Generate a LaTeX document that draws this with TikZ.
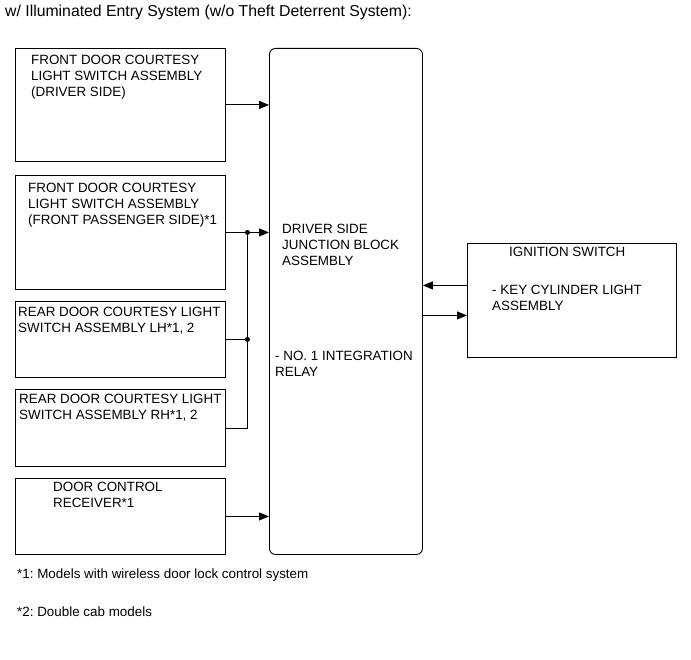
\documentclass[tikz,border=0pt]{standalone}
\usepackage{fontspec}
\setmainfont{Liberation Sans}
\usetikzlibrary{arrows.meta,positioning,calc}
\frenchspacing
\tikzset{
  part/.style={
    draw,
    line width=0.9pt,
    anchor=north west,
    inner sep=0pt,
    minimum width=210pt
  },
  tag/.style={
    anchor=north west,
    align=left,
    inner sep=0pt,
    font=\fontsize{13.4}{16}\selectfont
  },
  wire/.style={line width=0.9pt},
  feed/.style={wire, -{Triangle[length=10pt,width=8pt]}},
  joint/.style={circle, fill, inner sep=0pt, minimum size=5pt}
}

\begin{document}
\begin{tikzpicture}[x=1pt, y=-1pt]
 \useasboundingbox (0,0) rectangle (691,660);

 \node[tag, font=\fontsize{15.8}{19}\selectfont] (title) at (5,5)
   {w/ Illuminated Entry System (w/o Theft Deterrent System):};

 % switches on the left
 \node[part, minimum height=113pt] (fdd) at (15,48) {};
 \node[part, minimum height=114pt] (fpd) at (15,175) {};
 \node[part, minimum height=76pt] (rlh) at (15,301) {};
 \node[part, minimum height=77pt] (rrh) at (15,389) {};
 \node[part, minimum height=76pt] (dcr) at (15,478) {};

 \node[tag] (fdd text) [below right=7pt and 16pt of fdd.north west]
   {FRONT DOOR COURTESY\\LIGHT SWITCH ASSEMBLY\\(DRIVER SIDE)};
 \node[tag] (fpd text) [below right=8pt and 13pt of fpd.north west]
   {FRONT DOOR COURTESY\\LIGHT SWITCH ASSEMBLY\\(FRONT PASSENGER SIDE)*1};
 \node[tag] (rlh text) [below right=6pt and 3pt of rlh.north west]
   {REAR DOOR COURTESY LIGHT\\SWITCH ASSEMBLY LH*1, 2};
 \node[tag] (rrh text) [below right=5pt and 4pt of rrh.north west]
   {REAR DOOR COURTESY LIGHT\\SWITCH ASSEMBLY RH*1, 2};
 \node[tag] (dcr text) [below right=4pt and 38pt of dcr.north west]
   {DOOR CONTROL\\RECEIVER*1};

 % junction block
 \node[part, minimum width=153pt, minimum height=506pt, rounded corners=6pt] (jb) at (269,48) {};
 \node[tag] (jb text) [below right=176pt and 13pt of jb.north west]
   {DRIVER SIDE\\JUNCTION BLOCK\\ASSEMBLY};
 \node[tag] (relay text) [below right=303pt and 6pt of jb.north west]
   {- NO. 1 INTEGRATION\\RELAY};

 % ignition switch
 \node[part, minimum width=209pt, minimum height=114pt] (ign) at (467,243) {};
 \node[tag] (ign text) [below right=4pt and 42pt of ign.north west] {IGNITION SWITCH};
 \node[tag] (key text) [below right=42pt and 25pt of ign.north west]
   {- KEY CYLINDER LIGHT\\ASSEMBLY};

 \node[tag] (note1) at (17,569) {*1: Models with wireless door lock control system};
 \node[tag] (note2) at (17,607) {*2: Double cab models};

 \draw[feed] (fdd.east) -- (fdd.east -| jb.west);
 \draw[feed] (fpd.east) -- (fpd.east -| jb.west);
 \coordinate (tap) at ($(fpd.east)!0.5!(fpd.east -| jb.west)$);
 \draw[wire] (rrh.east) -| (tap);
 \draw[wire] (rlh.east) -- (rlh.east -| tap);
 \node[joint] (tap dot) at (tap) {};
 \node[joint] (rlh dot) at (rlh.east -| tap) {};
 \draw[feed] (dcr.east) -- (dcr.east -| jb.west);

 \draw[feed] ([yshift=15pt]ign.west) -- ([yshift=15pt]ign.west -| jb.east);
 \draw[feed] ([yshift=-15pt]ign.west -| jb.east) -- ([yshift=-15pt]ign.west);
\end{tikzpicture}
\end{document}
